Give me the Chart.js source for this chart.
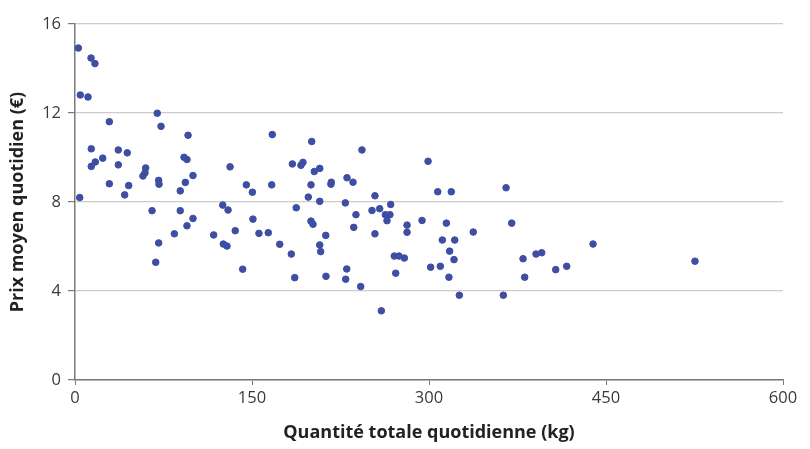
<!DOCTYPE html>
<html>
<head>
<meta charset="utf-8">
<script src="https://cdn.jsdelivr.net/npm/chart.js@4/dist/chart.umd.min.js"></script>
<style>
  html, body { margin: 0; padding: 0; background: #fff; }
  #wrap { width: 810px; height: 449px; }
</style>
</head>
<body>
<div id="wrap"><canvas id="scatter"></canvas></div>
<script>
// quantité (kg) / prix moyen (€)
const quantite = [
  2.8, 13.6, 16.9, 4.5, 11.0, 69.7, 29.1, 72.9, 95.8, 13.8,
  36.7, 44.3, 23.5, 92.4, 94.9, 17.2, 13.8, 36.7, 59.9, 59.3,
  57.6, 100, 131.4, 29.1, 45.5, 70.9, 71.2, 93.5, 42.1, 89.2,
  145.2, 150.3, 4.0, 65.3, 89.2, 100, 94.9, 84.2, 70.9, 68.4,
  125.2, 129.7, 150.8, 135.8, 117.5, 125.7, 128.8, 142.1, 155.9, 167.2,
  200.6, 243.2, 299.2, 184.2, 191.5, 193.2, 202.8, 207.4, 166.7, 200,
  217.2, 216.9, 230.5, 235.6, 197.7, 207.4, 229.1, 254.2, 307.4, 187.5,
  251.7, 258.2, 267.5, 263, 266.9, 264.4, 238.1, 200, 201.7, 294.1,
  281.4, 281.4, 163.8, 236.2, 254.2, 212.5, 173.5, 207.4, 208.2, 183.3,
  270.6, 274.6, 279.1, 311.3, 230.3, 301.4, 309.6, 186.2, 212.7, 229.4,
  271.8, 242.1, 259.6, 318.9, 365.3, 314.7, 337.5, 370.1, 321.8, 317.5,
  321.2, 316.9, 325.7, 363, 379.7, 381.1, 390.7, 395.5, 407.4, 416.7,
  439, 525.4
]
const prix = [
  14.92, 14.47, 14.22, 12.81, 12.72, 11.99, 11.61, 11.40, 11.0, 10.39,
  10.34, 10.21, 9.97, 10.01, 9.91, 9.80, 9.60, 9.67, 9.53, 9.31,
  9.17, 9.19, 9.58, 8.82, 8.74, 8.97, 8.80, 8.88, 8.32, 8.50,
  8.77, 8.44, 8.20, 7.61, 7.61, 7.26, 6.93, 6.57, 6.16, 5.29,
  7.86, 7.64, 7.23, 6.71, 6.52, 6.11, 6.02, 4.98, 6.59, 11.03,
  10.72, 10.34, 9.83, 9.71, 9.65, 9.78, 9.37, 9.51, 8.77, 8.77,
  8.89, 8.80, 9.09, 8.89, 8.22, 8.03, 7.96, 8.28, 8.46, 7.74,
  7.62, 7.70, 7.89, 7.43, 7.43, 7.16, 7.43, 7.14, 7.0, 7.17,
  6.96, 6.64, 6.62, 6.86, 6.57, 6.50, 6.10, 6.07, 5.77, 5.66,
  5.57, 5.57, 5.48, 6.29, 4.99, 5.07, 5.11, 4.60, 4.66, 4.53,
  4.80, 4.20, 3.11, 8.46, 8.64, 7.05, 6.65, 7.05, 6.29, 5.79,
  5.41, 4.62, 3.81, 3.81, 5.45, 4.62, 5.66, 5.72, 4.96, 5.11,
  6.11, 5.34
]
const xTicks = [0, 150, 300, 450, 600]
const yTicks = [0, 4, 8, 12, 16]

const points = quantite.map((q, i) => ({ x: q, y: prix[i] }))

new Chart(document.querySelector("#scatter"), {
  type: "scatter",
  data: {
    datasets: [
      {
        data: points,
        backgroundColor: "#3d4ea3",
        borderColor: "#3d4ea3",
        pointRadius: 3.3,
        pointHoverRadius: 3.3,
      },
    ],
  },
  options: {
    responsive: true,
    maintainAspectRatio: false,
    animation: false,
    layout: { padding: { left: 0, right: 27, top: 24, bottom: 0 } },
    plugins: { legend: { display: false }, tooltip: { enabled: false } },
    scales: {
      x: {
        type: "linear",
        min: 0,
        max: 600,
        afterBuildTicks: (s) => { s.ticks = xTicks.map((v) => ({ value: v })) },
        afterFit: (s) => { s.height = 69 },
        border: { color: "#7a7a7a", width: 1.5 },
        grid: { drawOnChartArea: false, drawTicks: true, tickLength: 5, color: "#7a7a7a" },
        ticks: { color: "#3a3a3a", padding: 3, font: { family: "Open Sans", size: 16.5 } },
        title: {
          display: true,
          text: "Quantité totale quotidienne (kg)",
          color: "#222",
          padding: { top: 5, bottom: 5 },
          font: { family: "Open Sans", size: 18, weight: "bold" },
        },
      },
      y: {
        min: 0,
        max: 16,
        afterBuildTicks: (s) => { s.ticks = yTicks.map((v) => ({ value: v })) },
        afterFit: (s) => { s.width = 75 },
        border: { color: "#7a7a7a", width: 1.5 },
        grid: { color: "#cccccc", lineWidth: 1.2, tickLength: 7, tickColor: "#7a7a7a" },
        ticks: { color: "#3a3a3a", padding: 7, font: { family: "Open Sans", size: 16.5 } },
        title: {
          display: true,
          text: "Prix moyen quotidien (€)",
          color: "#222",
          padding: { top: 7, bottom: 7 },
          font: { family: "Open Sans", size: 18, weight: "bold" },
        },
      },
    },
  },
})
</script>
</body>
</html>
